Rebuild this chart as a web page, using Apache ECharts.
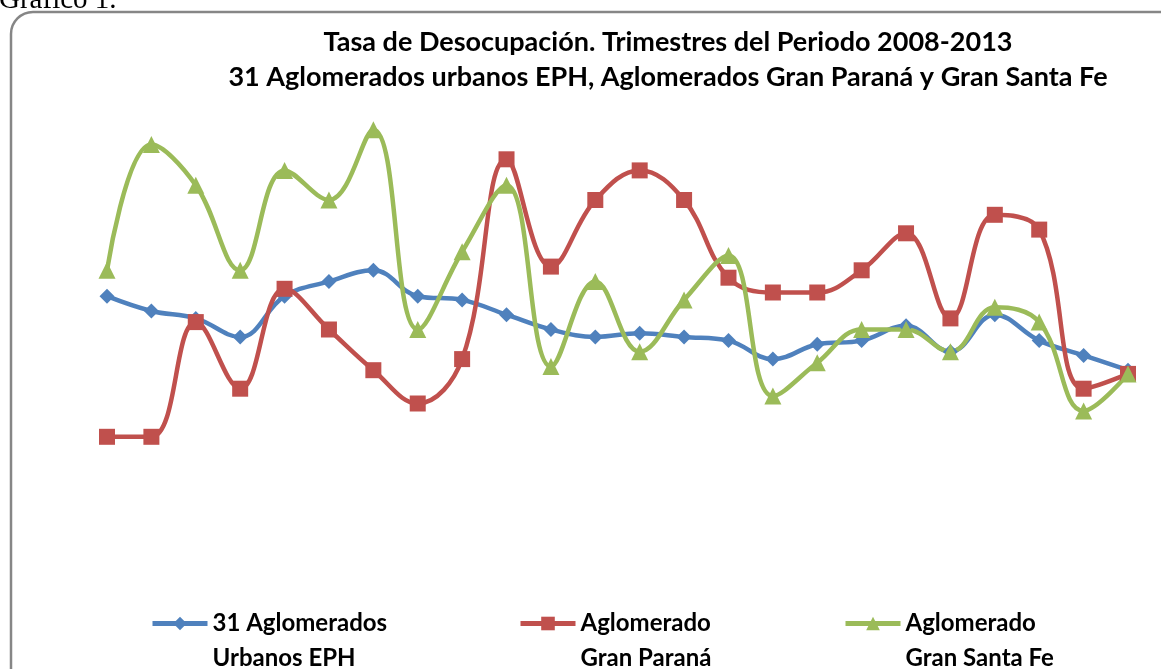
<!DOCTYPE html>
<html>
<head>
<meta charset="utf-8">
<script src="https://cdn.jsdelivr.net/npm/echarts@6/dist/echarts.min.js"></script>
<style>
  html, body { margin: 0; padding: 0; background: #fff; }
  #main { width: 1161px; height: 669px; }
</style>
</head>
<body>
<div id="main"></div>
<script>
// trimestres 2008-2013
const trimestres = [
  'I-08', 'II-08', 'III-08', 'IV-08',
  'I-09', 'II-09', 'III-09', 'IV-09',
  'I-10', 'II-10', 'III-10', 'IV-10',
  'I-11', 'II-11', 'III-11', 'IV-11',
  'I-12', 'II-12', 'III-12', 'IV-12',
  'I-13', 'II-13', 'III-13', 'IV-13'
]
const eph31 = [8.4, 8.0, 7.8, 7.3, 8.4, 8.8, 9.1, 8.4, 8.3, 7.9, 7.5, 7.3, 7.4, 7.3, 7.2, 6.7, 7.1, 7.2, 7.6, 6.9, 7.9, 7.2, 6.8, 6.4]
const granParana = [4.6, 4.6, 7.7, 5.9, 8.6, 7.5, 6.4, 5.5, 6.7, 12.1, 9.2, 11.0, 11.8, 11.0, 8.9, 8.5, 8.5, 9.1, 10.1, 7.8, 10.6, 10.2, 5.9, 6.3]
const granSantaFe = [9.1, 12.5, 11.4, 9.1, 11.8, 11.0, 12.9, 7.5, 9.6, 11.4, 6.5, 8.8, 6.9, 8.3, 9.5, 5.7, 6.6, 7.5, 7.5, 6.9, 8.1, 7.7, 5.3, 6.3]

const nombres = ['31 Aglomerados Urbanos EPH', 'Aglomerado Gran Paraná', 'Aglomerado Gran Santa Fe']
const etiquetas = {
  '31 Aglomerados Urbanos EPH': '31 Aglomerados\nUrbanos EPH',
  'Aglomerado Gran Paraná': 'Aglomerado\nGran Paraná',
  'Aglomerado Gran Santa Fe': 'Aglomerado\nGran Santa Fe'
}
const colores = ['#4F81BD', '#C0504D', '#9BBB59']
const fuente = 'Lato, "DejaVu Sans", sans-serif'

// el icono queda a la altura de la primera linea: se agrega una linea vacia arriba
function leyenda(nombre, x) {
  return {
    data: [nombre],
    left: x,
    top: 566,
    itemWidth: 55,
    itemHeight: 17,
    selectedMode: false,
    lineStyle: { width: 5 },
    formatter: n => ' \n' + etiquetas[n],
    textStyle: {
      fontFamily: fuente,
      fontWeight: 'bold',
      fontSize: 24,
      color: '#000',
      lineHeight: 35
    }
  }
}

function serie(nombre, datos, color, simbolo, tam) {
  return {
    name: nombre,
    type: 'line',
    smooth: 0.4,
    data: datos,
    symbol: simbolo,
    symbolSize: tam,
    lineStyle: { width: 4.5, color: color },
    itemStyle: { color: color },
    emphasis: { disabled: true }
  }
}

const option = {
  animation: false,
  title: {
    text: 'Tasa de Desocupación. Trimestres del Periodo 2008-2013\n31 Aglomerados urbanos EPH, Aglomerados Gran Paraná y Gran Santa Fe',
    left: 663,
    top: 20,
    textAlign: 'center',
    textStyle: {
      fontFamily: fuente,
      fontWeight: 'bold',
      fontSize: 27,
      lineHeight: 35,
      color: '#000'
    }
  },
  graphic: [
    {
      type: 'rect',
      shape: { x: 11, y: 12, width: 1200, height: 700, r: 22 },
      style: { fill: 'none', stroke: '#868686', lineWidth: 2.5 },
      silent: true
    },
    {
      type: 'text',
      style: {
        x: -1,
        y: 0,
        text: 'Gráfico 1.',
        font: '29px "Liberation Serif", serif',
        verticalAlign: 'middle',
        fill: '#000'
      },
      silent: true
    }
  ],
  legend: [
    leyenda(nombres[0], 145),
    leyenda(nombres[1], 513),
    leyenda(nombres[2], 838)
  ],
  grid: { left: 107, right: 33, top: 89, bottom: 210 },
  xAxis: {
    type: 'category',
    data: trimestres,
    boundaryGap: false,
    show: false
  },
  yAxis: {
    type: 'value',
    min: 4,
    max: 14,
    show: false,
    splitLine: { show: false }
  },
  series: [
    serie(nombres[0], eph31, colores[0], 'diamond', 15),
    serie(nombres[1], granParana, colores[1], 'rect', 16),
    serie(nombres[2], granSantaFe, colores[2], 'triangle', 17)
  ]
}

const grafico = echarts.init(document.getElementById('main'))
grafico.setOption(option)
</script>
</body>
</html>
